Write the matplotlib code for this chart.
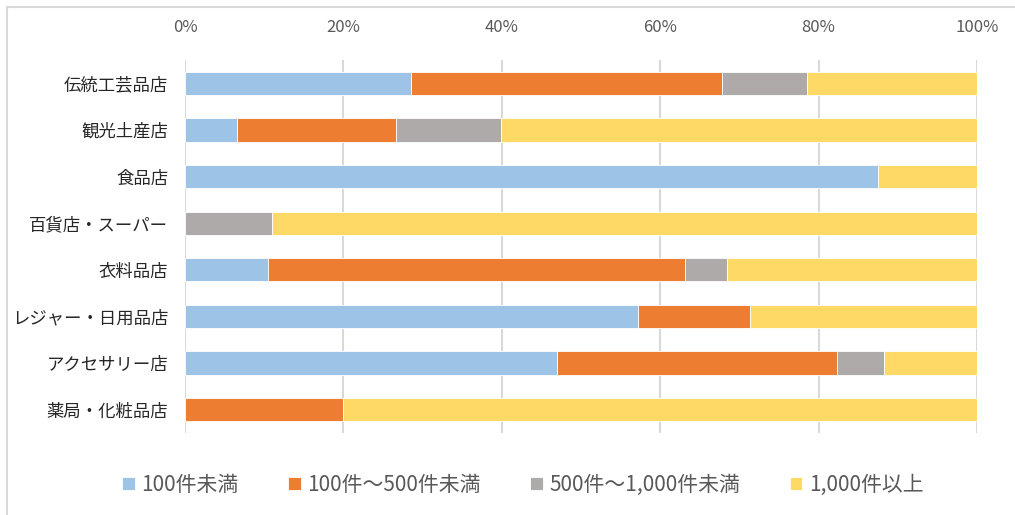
import matplotlib.pyplot as plt
from matplotlib.lines import Line2D
import numpy as np

plt.rcParams['font.family'] = ['Noto Sans CJK JP', 'DejaVu Sans']

categories = ['伝統工芸品店', '観光土産店', '食品店', '百貨店・スーパー',
              '衣料品店', 'レジャー・日用品店', 'アクセサリー店', '薬局・化粧品店']
series_names = ['100件未満', '100件～500件未満', '500件～1,000件未満', '1,000件以上']
under_100 = [28.5, 6.6, 87.5, 0.0, 10.5, 57.2, 47.0, 0.0]
from_100_to_500 = [39.3, 20.0, 0.0, 0.0, 52.6, 14.1, 35.3, 20.0]
from_500_to_1000 = [10.7, 13.3, 0.0, 11.0, 5.3, 0.0, 6.0, 0.0]
over_1000 = [21.5, 60.1, 12.5, 89.0, 31.6, 28.7, 11.7, 80.0]
colors = ['#9DC3E6', '#ED7D31', '#AEAAAA', '#FFD966']

fig = plt.figure(figsize=(10.15, 5.15), dpi=100)
ax = fig.add_axes([185 / 1015, 1 - 433 / 515, (977 - 185) / 1015, (433 - 60) / 515])

y = np.arange(len(categories))
left = np.zeros(len(categories))
for name, vals, c in zip(series_names, [under_100, from_100_to_500, from_500_to_1000, over_1000], colors):
    vals = np.array(vals)
    ax.barh(y, vals, left=left, height=0.5, color=c, edgecolor='white', linewidth=0.6, label=name, zorder=3)
    left += vals

ax.set_xlim(0, 100)
ax.set_ylim(len(categories) - 0.5, -0.5)
ax.set_xticks(np.arange(0, 101, 20))
ax.set_xticklabels([f'{t}%' for t in range(0, 101, 20)])
ax.xaxis.tick_top()
ax.tick_params(axis='x', length=0, pad=17, labelsize=12, labelcolor='#595959')
ax.set_yticks(y)
ax.set_yticklabels(categories)
ax.tick_params(axis='y', length=0, pad=12, labelsize=12.5, labelcolor='#262626')
ax.grid(axis='x', color='#D9D9D9', linewidth=1.5, zorder=0)
for s in ax.spines.values():
    s.set_visible(False)

ax.legend(loc='center', bbox_to_anchor=(0.515, 0.058), bbox_transform=fig.transFigure,
          ncol=4, frameon=False, fontsize=15, handlelength=0.6, handleheight=0.6,
          handletextpad=0.3, columnspacing=2.4, labelcolor='#595959')

# chart border (partially visible)
fig.add_artist(Line2D([7 / 1015, 7 / 1015], [0, 1 - 7 / 515], color='#D9D9D9', linewidth=1.5))
fig.add_artist(Line2D([7 / 1015, 1], [1 - 7 / 515, 1 - 7 / 515], color='#D9D9D9', linewidth=1.5))

fig.savefig('out.png', dpi=100)
